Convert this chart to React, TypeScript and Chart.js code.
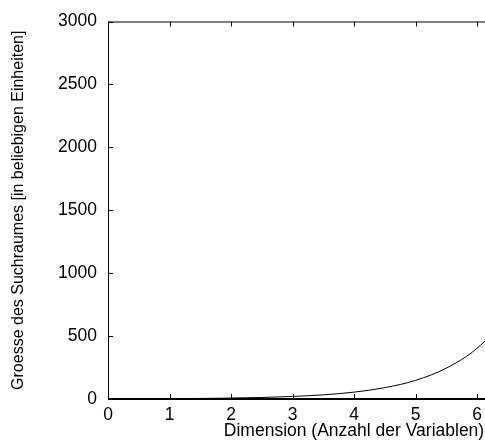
import React, { useEffect, useRef } from "react";
import { Chart, registerables } from "chart.js";

Chart.register(...registerables);

const dimensions = [0, 0.5, 1, 1.5, 2, 2.5, 3, 3.5, 4, 4.5, 5, 5.5, 6, 6.5, 7, 7.5, 8];
const searchSpace = [1, 1.65, 2.72, 4.48, 7.39, 12.2, 20.1, 33.1, 54.6, 90, 148, 245, 403, 665, 1097, 1808, 2981];
const xTicks = [0, 1, 2, 3, 4, 5, 6, 7, 8];
const yTicks = [0, 500, 1000, 1500, 2000, 2500, 3000];

const FONT = "'Liberation Sans', Arial, Helvetica, sans-serif";

const framePlugin = {
  id: "frame",
  afterDraw(chart: any) {
    const { ctx, chartArea: a, scales } = chart;
    const xs = scales.x;
    const ys = scales.y;
    ctx.save();
    ctx.strokeStyle = "#000";
    ctx.lineWidth = 1;
    ctx.beginPath();
    ctx.moveTo(a.left + 0.5, a.top + 0.5);
    ctx.lineTo(a.right + 0.5, a.top + 0.5);
    ctx.moveTo(a.left + 0.5, a.top + 0.5);
    ctx.lineTo(a.left + 0.5, a.bottom + 0.5);
    ctx.moveTo(a.right + 0.5, a.top + 0.5);
    ctx.lineTo(a.right + 0.5, a.bottom + 0.5);
    const len = 5;
    xTicks.forEach((v) => {
      const px = Math.round(xs.getPixelForValue(v)) + 0.5;
      ctx.moveTo(px, a.bottom);
      ctx.lineTo(px, a.bottom - len);
      ctx.moveTo(px, a.top);
      ctx.lineTo(px, a.top + len);
    });
    yTicks.forEach((v) => {
      const py = Math.round(ys.getPixelForValue(v)) + 0.5;
      ctx.moveTo(a.left, py);
      ctx.lineTo(a.left + len, py);
      ctx.moveTo(a.right, py);
      ctx.lineTo(a.right - len, py);
    });
    ctx.stroke();
    ctx.lineWidth = 2;
    ctx.beginPath();
    ctx.moveTo(a.left, a.bottom);
    ctx.lineTo(a.right, a.bottom);
    ctx.stroke();
    ctx.restore();
  },
};

export default function App() {
  const ref = useRef<HTMLCanvasElement | null>(null);
  useEffect(() => {
    if (!ref.current) return;
    const chart = new Chart(ref.current, {
      type: "line",
      data: {
        datasets: [
          {
            data: dimensions.map((d, i) => ({ x: d, y: searchSpace[i] })),
            borderColor: "#000",
            borderWidth: 1,
            pointRadius: 0,
            cubicInterpolationMode: "monotone",
            fill: false,
          },
        ],
      },
      options: {
        animation: false,
        responsive: false,
        layout: { padding: { top: 15, right: 40, left: 0, bottom: 0 } },
        plugins: { legend: { display: false }, tooltip: { enabled: false } },
        scales: {
          x: {
            type: "linear",
            min: 0,
            max: 8,
            afterBuildTicks: (s: any) => {
              s.ticks = xTicks.map((v) => ({ value: v }));
            },
            afterFit: (s: any) => {
              s.height = 44;
            },
            grid: { display: false, drawTicks: false },
            border: { display: false },
            ticks: {
              color: "#000",
              font: { family: FONT, size: 17.5 },
              padding: 6,
              maxRotation: 0,
              callback: (v: any) => String(v),
            },
            title: {
              display: true,
              text: "Dimension (Anzahl der Variablen)",
              color: "#000",
              font: { family: FONT, size: 17.5 },
              padding: { top: 0, bottom: 1 },
            },
          },
          y: {
            type: "linear",
            min: 0,
            max: 3000,
            afterBuildTicks: (s: any) => {
              s.ticks = yTicks.map((v) => ({ value: v }));
            },
            afterFit: (s: any) => {
              s.width = 108;
            },
            grid: { display: false, drawTicks: false },
            border: { display: false },
            ticks: {
              color: "#000",
              font: { family: FONT, size: 17.5 },
              padding: 11,
              callback: (v: any) => String(v),
            },
            title: {
              display: true,
              text: "Groesse des Suchraumes [in beliebigen Einheiten]",
              color: "#000",
              font: { family: FONT, size: 16 },
              padding: { top: 9, bottom: 0 },
            },
          },
        },
      },
      plugins: [framePlugin],
    });
    return () => chart.destroy();
  }, []);
  return (
    <div style={{ position: "absolute", left: 0, top: 0, width: 485, height: 443, overflow: "hidden", background: "#fff" }}>
      <canvas ref={ref} width={640} height={443} style={{ display: "block" }} />
    </div>
  );
}
